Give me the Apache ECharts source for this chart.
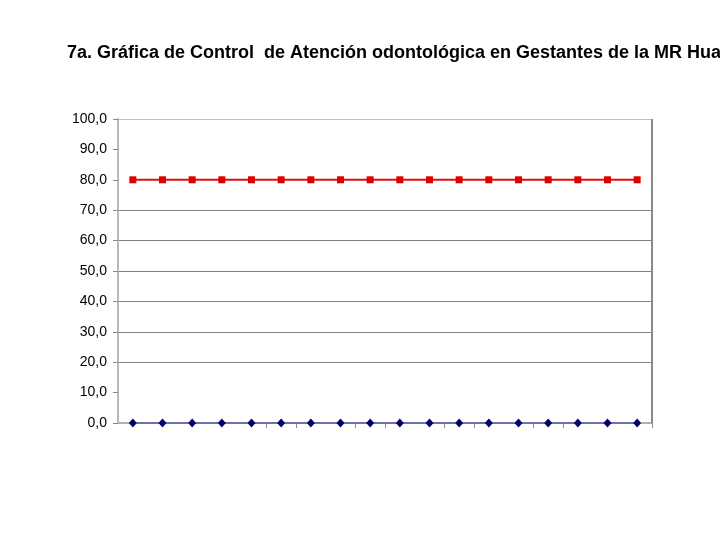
<!DOCTYPE html>
<html>
<head>
<meta charset="utf-8">
<script src="https://cdn.jsdelivr.net/npm/echarts@6/dist/echarts.min.js"></script>
<style>html,body{margin:0;padding:0;background:#fff;}#c{width:720px;height:540px;}</style>
</head>
<body>
<div id="c"></div>
<script>
var titleText = '7a. Gráfica de Control  de Atención odontológica en Gestantes de la MR Hua';
var categories = ['1','2','3','4','5','6','7','8','9','10','11','12','13','14','15','16','17','18'];
var limitValues = [80,80,80,80,80,80,80,80,80,80,80,80,80,80,80,80,80,80];
var observedValues = [0,0,0,0,0,0,0,0,0,0,0,0,0,0,0,0,0,0];
var yTicks = [0,10,20,30,40,50,60,70,80,90,100];
var shownXTicks = [5,6,8,9,11,12,14,15];

var chart = echarts.init(document.getElementById('c'));
chart.setOption({
  animation: false,
  backgroundColor: '#ffffff',
  title: {
    text: titleText,
    left: 62, top: 39,
    textStyle: {fontFamily: 'Liberation Sans, Arial, sans-serif', fontSize: 18, fontWeight: 'bold', color: '#000'}
  },
  grid: {left: 118, right: 68, top: 119, bottom: 117, show: true, borderColor: 'transparent', borderWidth: 0},
  xAxis: {
    type: 'category',
    data: categories,
    boundaryGap: true,
    axisLine: {show: true, lineStyle: {color: '#b0b0b0', width: 2}},
    axisTick: {show: true, inside: false, length: 5, lineStyle: {color: '#888', width: 1},
      interval: function (i) { return shownXTicks.indexOf(i) >= 0; }},
    axisLabel: {show: false},
    splitLine: {show: false}
  },
  yAxis: {
    type: 'value',
    min: yTicks[0], max: yTicks[yTicks.length - 1], interval: 10,
    axisLine: {show: true, lineStyle: {color: '#b8b8b8', width: 2}},
    axisTick: {show: true, length: 5, lineStyle: {color: '#888'}},
    axisLabel: {
      margin: 11,
      fontFamily: 'Liberation Sans, Arial, sans-serif', fontSize: 14, color: '#000',
      formatter: function (v) { return v.toFixed(1).replace('.', ','); }
    },
    splitLine: {show: true, lineStyle: {width: 1,
      color: ['rgba(0,0,0,0)','rgba(0,0,0,0)','#808080','#808080','#808080','#808080','#808080','#808080','rgba(0,0,0,0)','rgba(0,0,0,0)','#c0c0c0']}}
  },
  series: [
    {
      type: 'line', data: limitValues,
      symbol: 'rect', symbolSize: 7,
      lineStyle: {color: '#dd1111', width: 2},
      itemStyle: {color: '#dd0000'},
      z: 3
    },
    {
      type: 'line', data: observedValues,
      symbol: 'diamond', symbolSize: [8, 9],
      lineStyle: {color: '#7070b0', width: 2},
      itemStyle: {color: '#000066'},
      z: 4
    }
  ],
  graphic: [
    {type: 'line', z: 10, shape: {x1: 652, y1: 119, x2: 652, y2: 423}, style: {stroke: '#8a8a8a', lineWidth: 2}}
  ]
});
</script>
</body>
</html>
